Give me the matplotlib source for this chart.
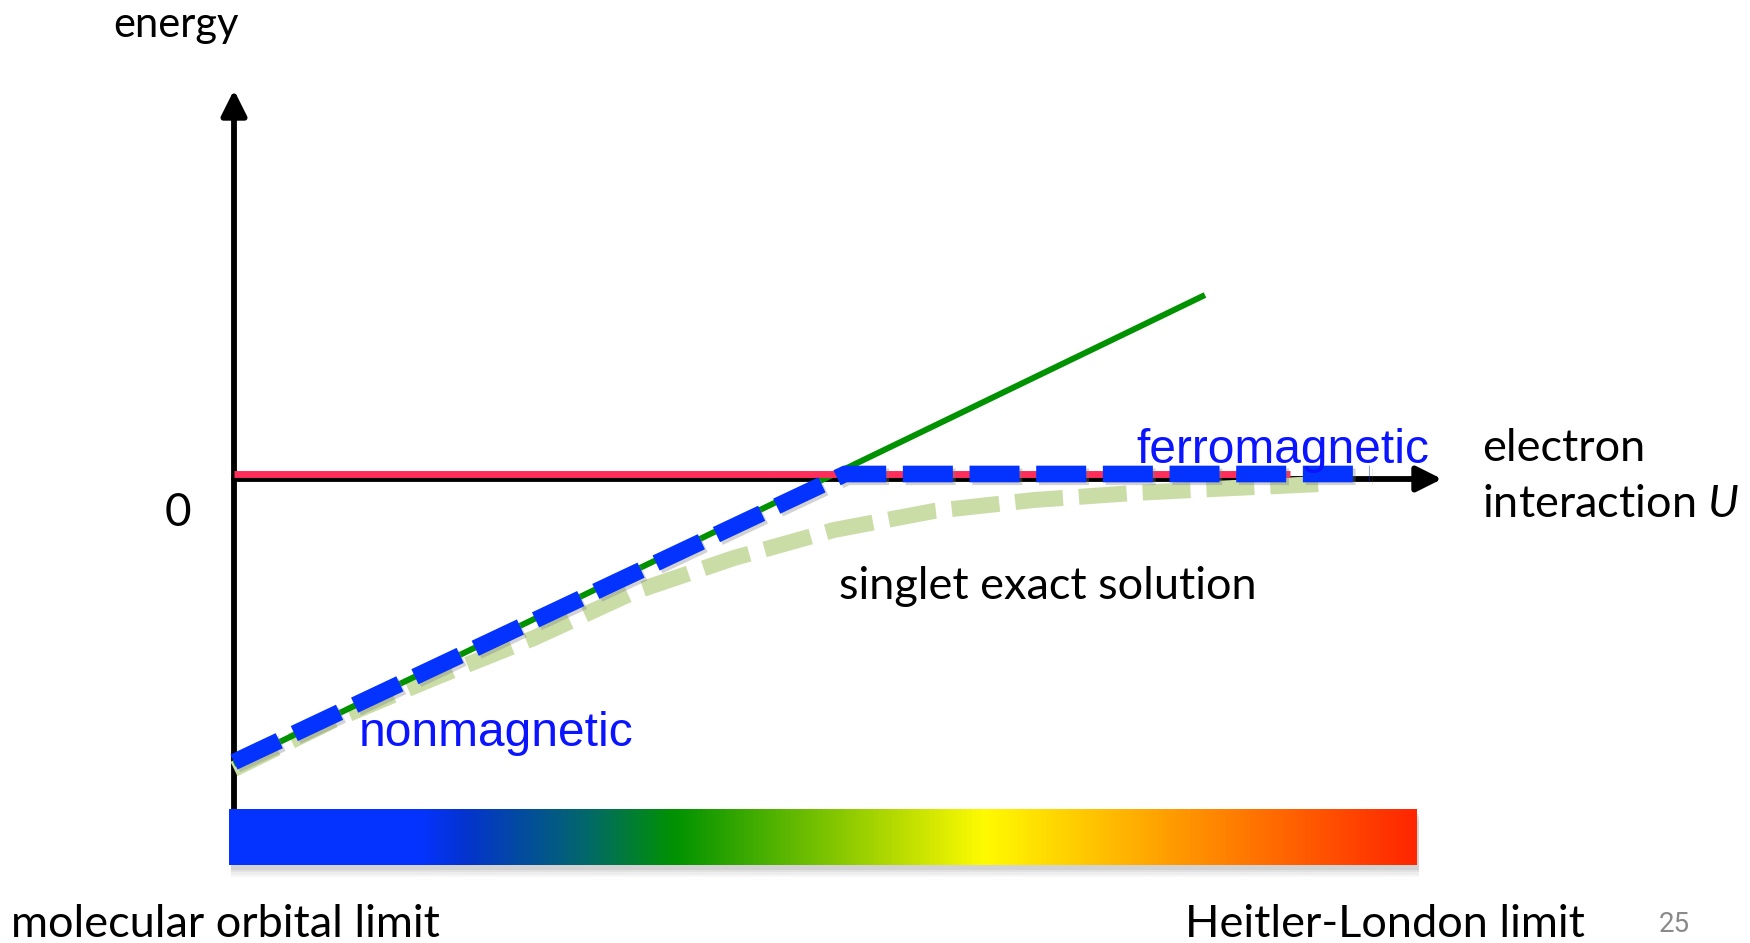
import numpy as np
import matplotlib
matplotlib.use("Agg")
import matplotlib.pyplot as plt
import matplotlib.patheffects as pe
from matplotlib.colors import LinearSegmentedColormap
from matplotlib.patches import Rectangle

plt.rcParams['font.family'] = ['Lato', 'DejaVu Sans']
plt.rcParams['mathtext.fontset'] = 'custom'
plt.rcParams['mathtext.rm'] = 'Lato'
plt.rcParams['mathtext.it'] = 'Lato:italic'

# energies versus electron interaction U (arbitrary units)
U_nonmag = [0.0, 9.71]
E_nonmag = [-2.90, 1.79]

U_ferro = [0.0, 10.56]
E_ferro = [0.0, 0.0]

U_ground = [0.0, 6.11, 11.36]
E_ground = [-2.88, 0.0, 0.0]

U_singlet = [0.0, 1.0, 2.0, 3.0, 4.0, 5.0, 6.0, 7.0, 8.0, 9.0, 10.0, 10.87]
E_singlet = [-2.95, -2.46, -2.04, -1.64, -1.18, -0.84, -0.56, -0.37, -0.26, -0.19, -0.14, -0.10]

# colour bar from weak to strong coupling
bar_stops = [0.0, 0.16, 0.20, 0.30, 0.375, 0.56, 0.636, 0.82, 1.0]
bar_colors = ['#0433FF', '#0433FF', '#0434CC', '#02686A', '#009200',
              '#B4DA00', '#FFFB00', '#FF8D00', '#FF2600']

fig = plt.figure(figsize=(17.5, 9.43), dpi=100)
ax = fig.add_axes([0, 0, 1, 1])
ax.set_xlim(-2.34, 15.16)
ax.set_ylim(-4.69, 4.74)
ax.axis('off')

# axes arrows
arrow = dict(arrowstyle='-|>,head_length=0.9,head_width=0.45', lw=4.2,
             color='black', shrinkA=0, shrinkB=0, mutation_scale=17)
ax.annotate('', xy=(0.0, 3.84), xytext=(0.0, -3.35), arrowprops=arrow, zorder=2)
ax.annotate('', xy=(12.08, -0.05), xytext=(0.0, -0.05), arrowprops=arrow, zorder=2)

shadow = [pe.SimpleLineShadow(offset=(2, -2), shadow_color='gray', alpha=0.35), pe.Normal()]

ax.plot(U_singlet, E_singlet, color='#CADDA7', lw=11.5, ls=(0, (3.0, 1.0)),
        solid_capstyle='butt', dash_capstyle='butt', zorder=3)
ax.plot(U_nonmag, E_nonmag, color='#009200', lw=4.3, solid_capstyle='butt', zorder=4)
ax.plot(U_ferro, E_ferro, color='#FF2D5A', lw=5, solid_capstyle='butt', zorder=4)
ax.plot(U_ground, E_ground, color='#0433FF', lw=12, ls=(0, (3.0, 1.0)),
        dash_capstyle='butt', dash_joinstyle='miter', zorder=5, path_effects=shadow)

# gradient bar with soft shadow
x0, x1, y0, y1 = -0.05, 11.83, -3.91, -3.35
for i, a in enumerate([0.06, 0.08, 0.10, 0.14]):
    d = 0.025 * (4 - i)
    ax.add_patch(Rectangle((x0 + 0.02, y0 - d - 0.02), x1 - x0, y1 - y0, color='gray',
                           alpha=a, lw=0, zorder=5))
cmap = LinearSegmentedColormap.from_list('coupling', list(zip(bar_stops, bar_colors)))
ax.imshow(np.linspace(0, 1, 512)[None, :], cmap=cmap, aspect='auto',
          extent=(x0, x1, y0, y1), zorder=6)

ax.text(-0.58, 4.49, 'energy', fontsize=30, ha='center', va='center')
ax.text(-0.56, -0.39, '0', fontsize=33, ha='center', va='center')
ax.text(12.48, 0.13, 'electron', fontsize=32.5, ha='left', va='baseline')
ax.text(12.48, -0.43, 'interaction $U$', fontsize=32.5, ha='left', va='baseline')
ax.text(9.02, 0.11, 'ferromagnetic', fontsize=34.5, color='#0A14FF',
        family='Liberation Sans', ha='left', va='baseline', zorder=7)
ax.text(1.25, -2.72, 'nonmagnetic', fontsize=34.5, color='#0A14FF',
        family='Liberation Sans', ha='left', va='baseline', zorder=7)
ax.text(6.05, -1.25, 'singlet exact solution', fontsize=32.5, ha='left', va='baseline')
ax.text(-2.23, -4.63, 'molecular orbital limit', fontsize=32.5, ha='left', va='baseline')
ax.text(9.51, -4.63, 'Heitler-London limit', fontsize=32.5, ha='left', va='baseline')
ax.text(14.4, -4.50, '25', fontsize=20, color='#8A8A8A', family='Roboto',
        ha='center', va='center')

fig.savefig('out.png', dpi=100)
